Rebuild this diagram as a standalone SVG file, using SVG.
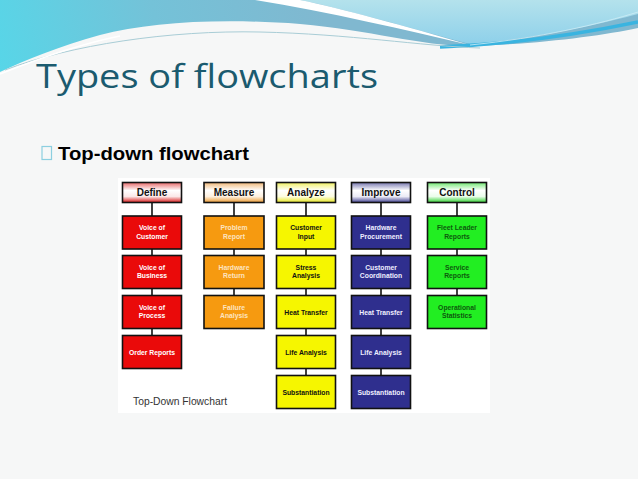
<svg xmlns="http://www.w3.org/2000/svg" width="638" height="479" viewBox="0 0 638 479">
<defs>
<linearGradient id="gBlue" x1="0" y1="80" x2="320" y2="0" gradientUnits="userSpaceOnUse">
<stop offset="0" stop-color="#57d6e8"/><stop offset="0.5" stop-color="#74c2d8"/><stop offset="1" stop-color="#80b8d0"/>
</linearGradient>
<linearGradient id="gLight" x1="0" y1="0" x2="0" y2="1">
<stop offset="0" stop-color="#b4e2ec"/><stop offset="1" stop-color="#8ed0ea"/>
</linearGradient>
<linearGradient id="hR" x1="0" y1="0" x2="0" y2="1"><stop offset="0" stop-color="#e86a6a"/><stop offset="0.4" stop-color="#ffffff"/><stop offset="0.7" stop-color="#fbe8e8"/><stop offset="1" stop-color="#d81818"/></linearGradient>
<linearGradient id="hO" x1="0" y1="0" x2="0" y2="1"><stop offset="0" stop-color="#f0b878"/><stop offset="0.4" stop-color="#ffffff"/><stop offset="0.7" stop-color="#fdf0e0"/><stop offset="1" stop-color="#ec9a30"/></linearGradient>
<linearGradient id="hY" x1="0" y1="0" x2="0" y2="1"><stop offset="0" stop-color="#f0f060"/><stop offset="0.4" stop-color="#ffffff"/><stop offset="0.7" stop-color="#fdfde0"/><stop offset="1" stop-color="#e8e820"/></linearGradient>
<linearGradient id="hB" x1="0" y1="0" x2="0" y2="1"><stop offset="0" stop-color="#7878b0"/><stop offset="0.4" stop-color="#ffffff"/><stop offset="0.7" stop-color="#ececf6"/><stop offset="1" stop-color="#404090"/></linearGradient>
<linearGradient id="hG" x1="0" y1="0" x2="0" y2="1"><stop offset="0" stop-color="#70e870"/><stop offset="0.4" stop-color="#ffffff"/><stop offset="0.7" stop-color="#eafdea"/><stop offset="1" stop-color="#30d030"/></linearGradient>
</defs>
<style>
.hd{stroke:#111;stroke-width:1.6}
.bx{stroke:#111;stroke-width:1.6}
.red{fill:#ea0a0a}.org{fill:#f69a10}.yel{fill:#f6f600}.nav{fill:#2f2f8e}.grn{fill:#22ee22}
.ht{font-family:"Liberation Sans",Arial,sans-serif;font-weight:bold;font-size:10px;fill:#111;text-anchor:middle}
.bt{font-family:"Liberation Sans",Arial,sans-serif;font-weight:bold;font-size:6.8px;text-anchor:middle}
.tw{fill:#ffffff}.to{fill:#fde4c0}.tk{fill:#111}.tb{fill:#eeeeff}.tg{fill:#0d5a0d}
.cn line{stroke:#111;stroke-width:1.6}
</style>
<rect width="638" height="479" fill="#f6f7f7"/>
<!-- top waves -->
<path d="M0,0 H638 V28 C600,36 540,44 470,46 C420,46 370,30 300,24 C220,18 150,22 100,35 C60,46 25,60 0,72 Z" fill="url(#gBlue)"/>
<path d="M300,0 C345,9 410,28 470,44 C540,38 600,24 638,14 V0 Z" fill="url(#gLight)"/>
<path d="M255,0 C330,12 405,30 470,45 C405,26 340,8 300,0 Z" fill="#ffffff"/>
<path d="M440,47 C520,44 590,32 638,22" fill="none" stroke="#3ab4e0" stroke-width="3.5"/>
<path d="M470,45 C540,38 600,24 638,12" fill="none" stroke="#cfeef6" stroke-width="0.8"/>
<path d="M5,70 C70,45 170,30 260,32 C350,34 420,46 480,48" fill="none" stroke="#a9cdd6" stroke-width="1"/>
<path d="M0,74 C40,58 80,44 120,36" fill="none" stroke="#ffffff" stroke-width="1.5"/>
<!-- title -->
<text x="36" y="87.5" font-family="'Open Sans','Liberation Sans',sans-serif" font-size="33" fill="#1b5b6f" textLength="342" lengthAdjust="spacingAndGlyphs">Types of flowcharts</text>
<rect x="42" y="146.5" width="9.5" height="13" fill="none" stroke="#8ccfe0" stroke-width="1.2"/>
<text x="58" y="159.5" font-family="'Liberation Sans',Arial,sans-serif" font-weight="bold" font-size="18" fill="#000" textLength="191" lengthAdjust="spacingAndGlyphs">Top-down flowchart</text>
<!-- image area -->
<rect x="118" y="178" width="372" height="235" fill="#ffffff"/>
<text x="133" y="404.5" font-family="'Liberation Sans',Arial,sans-serif" font-size="11.3" fill="#333" textLength="94" lengthAdjust="spacingAndGlyphs">Top-Down Flowchart</text>
<!-- connectors -->
<g id="connectors" class="cn">
<line x1="152" y1="202.5" x2="152" y2="216"/><line x1="152" y1="249" x2="152" y2="255.5"/><line x1="152" y1="288.5" x2="152" y2="295.5"/><line x1="152" y1="328.5" x2="152" y2="335.5"/>
<line x1="234" y1="202.5" x2="234" y2="216"/><line x1="234" y1="249" x2="234" y2="255.5"/><line x1="234" y1="288.5" x2="234" y2="295.5"/>
<line x1="306" y1="202.5" x2="306" y2="216"/><line x1="306" y1="249" x2="306" y2="255.5"/><line x1="306" y1="288.5" x2="306" y2="295.5"/><line x1="306" y1="328.5" x2="306" y2="335.5"/><line x1="306" y1="368.5" x2="306" y2="375.5"/>
<line x1="381" y1="202.5" x2="381" y2="216"/><line x1="381" y1="249" x2="381" y2="255.5"/><line x1="381" y1="288.5" x2="381" y2="295.5"/><line x1="381" y1="328.5" x2="381" y2="335.5"/><line x1="381" y1="368.5" x2="381" y2="375.5"/>
<line x1="457" y1="202.5" x2="457" y2="216"/><line x1="457" y1="249" x2="457" y2="255.5"/><line x1="457" y1="288.5" x2="457" y2="295.5"/>
</g>
<!-- Define -->
<g id="define"><rect class="hd" x="122.5" y="182.5" width="59" height="20" fill="url(#hR)"/><text class="ht" x="152" y="196">Define</text></g>
<g id="voice-customer"><rect class="bx red" x="122.5" y="216" width="59" height="33"/><text class="bt tw" x="152" y="230">Voice of</text><text class="bt tw" x="152" y="238.5">Customer</text></g>
<g id="voice-business"><rect class="bx red" x="122.5" y="255.5" width="59" height="33"/><text class="bt tw" x="152" y="269.5">Voice of</text><text class="bt tw" x="152" y="278">Business</text></g>
<g id="voice-process"><rect class="bx red" x="122.5" y="295.5" width="59" height="33"/><text class="bt tw" x="152" y="309.5">Voice of</text><text class="bt tw" x="152" y="318">Process</text></g>
<g id="order-reports"><rect class="bx red" x="122.5" y="335.5" width="59" height="33"/><text class="bt tw" x="152" y="354.5">Order Reports</text></g>
<!-- Measure -->
<g id="measure"><rect class="hd" x="204" y="182.5" width="60" height="20" fill="url(#hO)"/><text class="ht" x="234" y="196">Measure</text></g>
<g id="problem-report"><rect class="bx org" x="204" y="216" width="60" height="33"/><text class="bt to" x="234" y="230">Problem</text><text class="bt to" x="234" y="238.5">Report</text></g>
<g id="hardware-return"><rect class="bx org" x="204" y="255.5" width="60" height="33"/><text class="bt to" x="234" y="269.5">Hardware</text><text class="bt to" x="234" y="278">Return</text></g>
<g id="failure-analysis"><rect class="bx org" x="204" y="295.5" width="60" height="33"/><text class="bt to" x="234" y="309.5">Failure</text><text class="bt to" x="234" y="318">Analysis</text></g>
<!-- Analyze -->
<g id="analyze"><rect class="hd" x="276.5" y="182.5" width="59" height="20" fill="url(#hY)"/><text class="ht" x="306" y="196">Analyze</text></g>
<g id="customer-input"><rect class="bx yel" x="276.5" y="216" width="59" height="33"/><text class="bt tk" x="306" y="230">Customer</text><text class="bt tk" x="306" y="238.5">Input</text></g>
<g id="stress-analysis"><rect class="bx yel" x="276.5" y="255.5" width="59" height="33"/><text class="bt tk" x="306" y="269.5">Stress</text><text class="bt tk" x="306" y="278">Analysis</text></g>
<g id="heat-transfer-a"><rect class="bx yel" x="276.5" y="295.5" width="59" height="33"/><text class="bt tk" x="306" y="314.5">Heat Transfer</text></g>
<g id="life-analysis-a"><rect class="bx yel" x="276.5" y="335.5" width="59" height="33"/><text class="bt tk" x="306" y="354.5">Life Analysis</text></g>
<g id="substantiation-a"><rect class="bx yel" x="276.5" y="375.5" width="59" height="33"/><text class="bt tk" x="306" y="394.5">Substantiation</text></g>
<!-- Improve -->
<g id="improve"><rect class="hd" x="351.5" y="182.5" width="59" height="20" fill="url(#hB)"/><text class="ht" x="381" y="196">Improve</text></g>
<g id="hardware-procurement"><rect class="bx nav" x="351.5" y="216" width="59" height="33"/><text class="bt tb" x="381" y="230">Hardware</text><text class="bt tb" x="381" y="238.5">Procurement</text></g>
<g id="customer-coordination"><rect class="bx nav" x="351.5" y="255.5" width="59" height="33"/><text class="bt tb" x="381" y="269.5">Customer</text><text class="bt tb" x="381" y="278">Coordination</text></g>
<g id="heat-transfer-i"><rect class="bx nav" x="351.5" y="295.5" width="59" height="33"/><text class="bt tb" x="381" y="314.5">Heat Transfer</text></g>
<g id="life-analysis-i"><rect class="bx nav" x="351.5" y="335.5" width="59" height="33"/><text class="bt tb" x="381" y="354.5">Life Analysis</text></g>
<g id="substantiation-i"><rect class="bx nav" x="351.5" y="375.5" width="59" height="33"/><text class="bt tb" x="381" y="394.5">Substantiation</text></g>
<!-- Control -->
<g id="control"><rect class="hd" x="427.5" y="182.5" width="59" height="20" fill="url(#hG)"/><text class="ht" x="457" y="196">Control</text></g>
<g id="fleet-leader-reports"><rect class="bx grn" x="427.5" y="216" width="59" height="33"/><text class="bt tg" x="457" y="230">Fleet Leader</text><text class="bt tg" x="457" y="238.5">Reports</text></g>
<g id="service-reports"><rect class="bx grn" x="427.5" y="255.5" width="59" height="33"/><text class="bt tg" x="457" y="269.5">Service</text><text class="bt tg" x="457" y="278">Reports</text></g>
<g id="operational-statistics"><rect class="bx grn" x="427.5" y="295.5" width="59" height="33"/><text class="bt tg" x="457" y="309.5">Operational</text><text class="bt tg" x="457" y="318">Statistics</text></g>
</svg>
